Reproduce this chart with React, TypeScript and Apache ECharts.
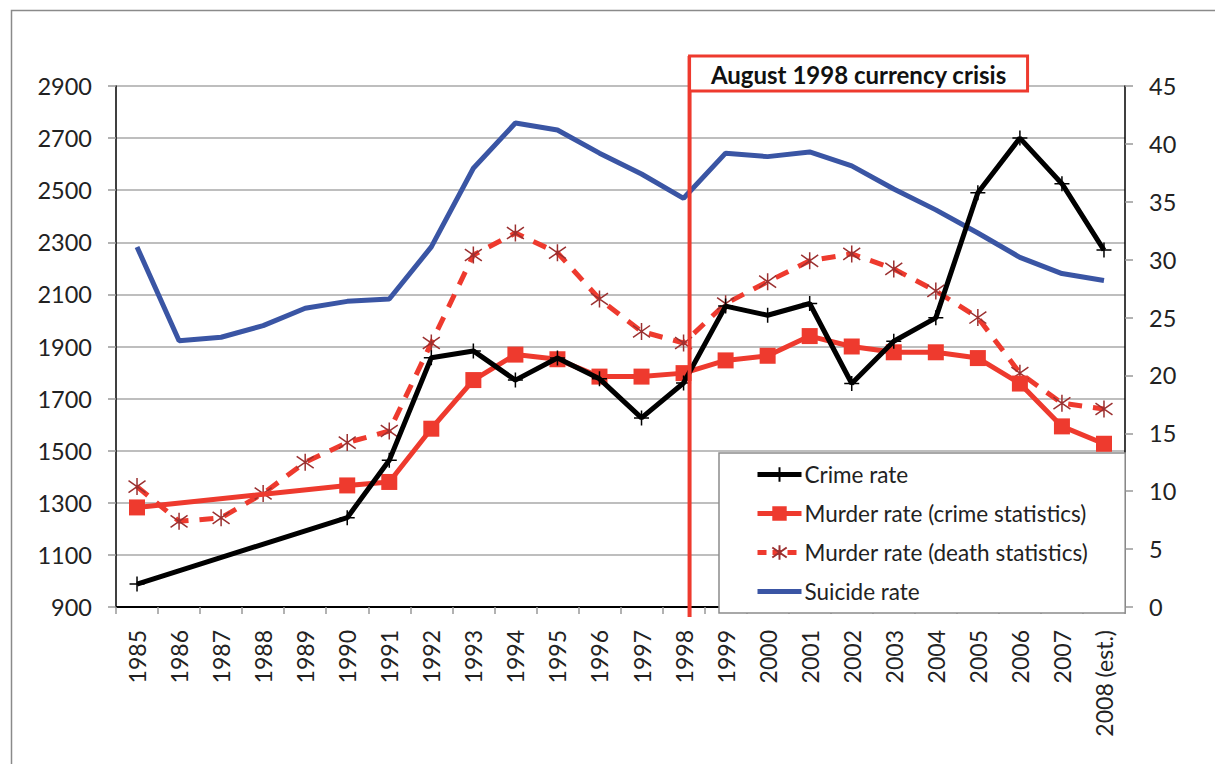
import React, { useEffect, useRef } from "react";
import * as echarts from "echarts";

const years = ["1985","1986","1987","1988","1989","1990","1991","1992","1993","1994","1995","1996","1997","1998","1999","2000","2001","2002","2003","2004","2005","2006","2007","2008 (est.)"];
const crimeRate = [988, null, null, null, null, 1243, 1463, 1857, 1883, 1771, 1856, 1776, 1626, 1760, 2055, 2020, 2065, 1758, 1920, 2010, 2490, 2700, 2525, 2270];
const murderCrimeStats = [8.6, null, null, null, null, 10.5, 10.8, 15.4, 19.6, 21.8, 21.4, 19.9, 19.9, 20.2, 21.3, 21.7, 23.4, 22.5, 22.0, 22.0, 21.5, 19.3, 15.6, 14.1];
const murderDeathStats = [10.4, 7.4, 7.7, 9.8, 12.5, 14.2, 15.2, 22.8, 30.4, 32.3, 30.6, 26.6, 23.8, 22.8, 26.2, 28.1, 29.9, 30.5, 29.2, 27.3, 25.0, 20.2, 17.6, 17.1];
const suicideRate = [31.1, 23.0, 23.3, 24.3, 25.8, 26.4, 26.6, 31.1, 37.9, 41.8, 41.2, 39.2, 37.4, 35.3, 39.2, 38.9, 39.3, 38.1, 36.1, 34.3, 32.3, 30.2, 28.8, 28.2];
const crisisYear = "1998";
const crisisLabel = "August 1998 currency crisis";

const FONT = "Lato, 'Noto Sans', sans-serif";
const RED = "#ee3a2e";
const BLUE = "#3a55a4";

const plusPath = "path://M5,0 L5,10 M0,5 L10,5";
const starPath = "path://M5,0 L5,10 M0,1.5 L10,8.5 M10,1.5 L0,8.5";

export default function App() {
  const ref = useRef<HTMLDivElement>(null);
  useEffect(() => {
    if (!ref.current) return;
    const chart = echarts.init(ref.current, null, { renderer: "svg" });
    const option: any = {
      animation: false,
      backgroundColor: "#ffffff",
      textStyle: { fontFamily: FONT },
      grid: { left: 116, top: 86, right: 90, bottom: 157, containLabel: false },
      legend: {
        orient: "vertical",
        left: 719,
        top: 453,
        padding: [10, 37, 10, 36],
        itemGap: 16,
        itemWidth: 44,
        itemHeight: 18,
        backgroundColor: "#ffffff",
        borderColor: "#8c8c8c",
        borderWidth: 1.5,
        borderRadius: 0,
        lineStyle: { width: 5 },
        textStyle: { fontFamily: FONT, fontSize: 22.5, color: "#222", padding: [0, 0, 0, -2] },
        data: [
          "Crime rate",
          "Murder rate (crime statistics)",
          { name: "Murder rate (death statistics)", lineStyle: { type: [9, 6] } },
          { name: "Suicide rate", itemStyle: { opacity: 0 } },
        ],
      },
      xAxis: {
        type: "category",
        data: years,
        boundaryGap: true,
        axisLine: { lineStyle: { color: "#000", width: 2 } },
        axisTick: { show: true, length: 7, lineStyle: { color: "#999", width: 1.5 } },
        axisLabel: { rotate: 90, interval: 0, margin: 23, fontFamily: FONT, fontSize: 23, color: "#222" },
      },
      yAxis: [
        {
          type: "value",
          min: 900,
          max: 2900,
          interval: 200,
          axisLine: { show: true, lineStyle: { color: "#000", width: 1.5 } },
          axisTick: { show: true, length: 8, lineStyle: { color: "#999", width: 1.5 } },
          axisLabel: { margin: 24, fontFamily: FONT, fontSize: 23.5, color: "#222", formatter: (v: number) => String(v) },
          splitLine: { show: true, lineStyle: { color: "#a8a8a8", width: 1.5 } },
        },
        {
          type: "value",
          min: 0,
          max: 45,
          interval: 5,
          position: "right",
          axisLine: { show: true, lineStyle: { color: "#000", width: 1.5 } },
          axisTick: { show: true, length: 8, lineStyle: { color: "#999", width: 1.5 } },
          axisLabel: { margin: 24, fontFamily: FONT, fontSize: 23.5, color: "#222", formatter: (v: number) => String(v) },
          splitLine: { show: false },
        },
      ],
      series: [
        {
          name: "Crime rate",
          type: "line",
          yAxisIndex: 0,
          data: crimeRate,
          connectNulls: true,
          symbol: plusPath,
          symbolSize: 15,
          lineStyle: { color: "#000", width: 5 },
          itemStyle: { color: "none", borderColor: "#000", borderWidth: 1.5 },
          z: 4,
        },
        {
          name: "Murder rate (crime statistics)",
          type: "line",
          yAxisIndex: 1,
          data: murderCrimeStats,
          connectNulls: true,
          symbol: "rect",
          symbolSize: 16,
          lineStyle: { color: RED, width: 5 },
          itemStyle: { color: RED },
          z: 3,
        },
        {
          name: "Murder rate (death statistics)",
          type: "line",
          yAxisIndex: 1,
          data: murderDeathStats,
          symbol: starPath,
          symbolSize: 17,
          lineStyle: { color: RED, width: 5, type: [14, 11] },
          itemStyle: { color: "none", borderColor: "#9b3030", borderWidth: 1.5 },
          z: 2,
        },
        {
          name: "Suicide rate",
          type: "line",
          yAxisIndex: 1,
          data: suicideRate,
          symbol: "circle",
          showSymbol: false,
          lineStyle: { color: BLUE, width: 5 },
          itemStyle: { color: BLUE },
          z: 1,
        },
      ],
    };
    chart.setOption(option);
    const cx = (chart.convertToPixel({ xAxisIndex: 0 }, crisisYear) as number) + 6;
    chart.setOption({
      graphic: [
        {
          type: "rect",
          left: 9,
          top: 8,
          shape: { width: 1230, height: 780 },
          style: { fill: "none", stroke: "#8a8a8a", lineWidth: 1.5 },
          silent: true,
          z: 0,
        },
        {
          type: "line",
          shape: { x1: cx, y1: 56, x2: cx, y2: 617 },
          style: { stroke: RED, lineWidth: 4 },
          z: 100,
        },
        {
          type: "rect",
          shape: { x: cx, y: 56, width: 338, height: 35 },
          style: { fill: "#fff", stroke: RED, lineWidth: 3 },
          z: 100,
        },
        {
          type: "text",
          x: cx + 169,
          y: 74,
          style: {
            text: crisisLabel,
            fontFamily: FONT,
            fontWeight: "bold",
            fontSize: 24,
            fill: "#111",
            align: "center",
            verticalAlign: "middle",
          },
          z: 101,
        },
      ],
    });
    return () => chart.dispose();
  }, []);
  return <div ref={ref} style={{ position: "absolute", left: 0, top: 0, width: 1215, height: 764 }} />;
}
